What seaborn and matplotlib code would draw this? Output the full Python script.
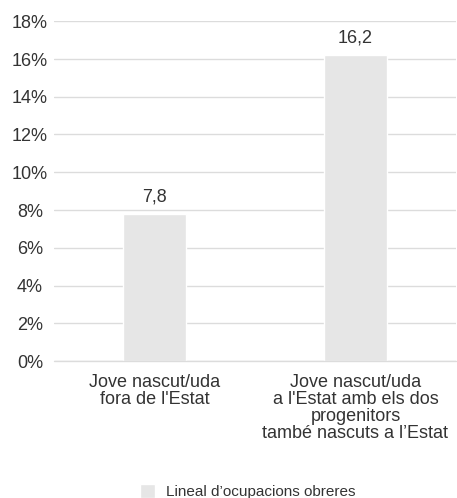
import matplotlib
matplotlib.use("Agg")
import matplotlib.pyplot as plt
import seaborn as sns
import pandas as pd

# data
categories = ["Jove nascut/uda\nfora de l'Estat",
              "Jove nascut/uda\na l'Estat amb els dos\nprogenitors\ntambé nascuts a l’Estat"]
values = [7.8, 16.2]
series_name = "Lineal d’ocupacions obreres"
yticks = [0, 2, 4, 6, 8, 10, 12, 14, 16, 18]

TEXT = "#333333"
BAR = "#e6e6e6"
GRID = "#dcdcdc"

sns.set_theme(style="white")
plt.rcParams["font.family"] = ["Liberation Sans", "DejaVu Sans"]

df = pd.DataFrame({"cat": categories, "val": values, "serie": series_name})

fig = plt.figure(figsize=(4.57, 4.98), dpi=100)
ax = fig.add_axes([54 / 457, 1 - 361 / 498, 402 / 457, (361 - 21.25) / 498])

g = sns.barplot(data=df, x="cat", y="val", hue="serie", palette=[BAR],
                width=0.315, dodge=False, ax=ax, legend=True, zorder=2)

ax.set_ylim(0, 18)
ax.set_xlim(-0.5, 1.5)
ax.set_yticks(yticks, labels=[f"{t}%" for t in yticks])
ax.yaxis.grid(True, color=GRID, linewidth=1)
ax.axhline(0, color=GRID, linewidth=1, clip_on=False, zorder=3)
ax.set_axisbelow(True)
for s in ax.spines.values():
    s.set_visible(False)
ax.tick_params(axis="both", length=0, labelsize=13, labelcolor=TEXT)
# y labels are centred in the left margin
ax.tick_params(axis="y", pad=17.3)
for lab in ax.get_yticklabels():
    lab.set_horizontalalignment("center")
ax.tick_params(axis="x", pad=9)
for lab in ax.get_xticklabels():
    lab.set_linespacing(1.0)
ax.set_xlabel("")
ax.set_ylabel("")

ax.bar_label(ax.containers[0], labels=[f"{v:.1f}".replace(".", ",") for v in values],
             padding=6, fontsize=13, color=TEXT)

ax.get_legend().remove()
handles, labels = ax.get_legend_handles_labels()
fig.legend(handles, labels, loc="lower left", bbox_to_anchor=(140 / 457, -0.003),
           frameon=False, fontsize=11, labelcolor=TEXT, handlelength=1.0,
           handleheight=1.0, handletextpad=0.72, borderpad=0, borderaxespad=0)

fig.savefig("out.png", dpi=100)
